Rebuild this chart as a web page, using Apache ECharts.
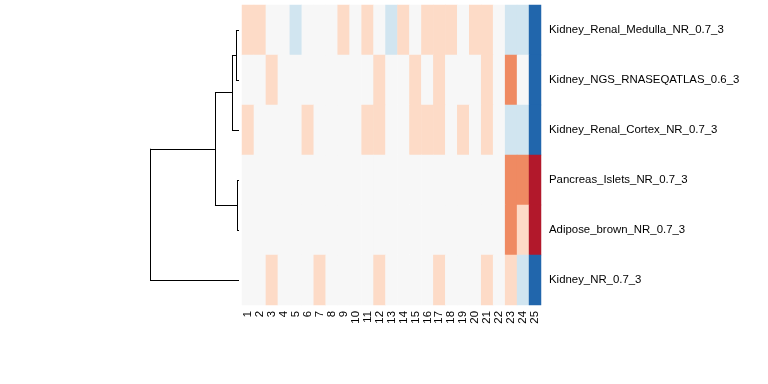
<!DOCTYPE html>
<html><head><meta charset="utf-8">
<script src="https://cdn.jsdelivr.net/npm/echarts@6/dist/echarts.min.js"></script>
<style>html,body{margin:0;padding:0;background:#fff}#c{width:768px;height:384px}</style>
</head><body><div id="c"></div>
<script>
const columns = ['1','2','3','4','5','6','7','8','9','10','11','12','13','14','15','16','17','18','19','20','21','22','23','24','25'];
const rowNames = ['Kidney_Renal_Medulla_NR_0.7_3','Kidney_NGS_RNASEQATLAS_0.6_3','Kidney_Renal_Cortex_NR_0.7_3','Pancreas_Islets_NR_0.7_3','Adipose_brown_NR_0.7_3','Kidney_NR_0.7_3'];
const rowMedulla  = [1,1,0,0,-1,0,0,0,1,0,1,0,-1,1,0,1,1,1,0,1,1,0,-1,-1,-3];
const rowNGS      = [0,0,1,0,0,0,0,0,0,0,0,1,0,0,1,0,1,0,0,0,1,0,2,0,-3];
const rowCortex   = [1,0,0,0,0,1,0,0,0,0,1,1,0,0,1,1,1,0,1,0,1,0,-1,-1,-3];
const rowPancreas = [0,0,0,0,0,0,0,0,0,0,0,0,0,0,0,0,0,0,0,0,0,0,2,2,3];
const rowAdipose  = [0,0,0,0,0,0,0,0,0,0,0,0,0,0,0,0,0,0,0,0,0,0,2,1,3];
const rowKidney   = [0,0,1,0,0,0,1,0,0,0,0,1,0,0,0,0,1,0,0,0,1,0,1,-1,-3];
// dendrogram merges: [childA, childB, height]; leaves are 0..5, merged nodes 6..
const merges = [[0,1,0.034],[6,2,0.079],[3,4,0.022],[7,8,0.27],[9,5,1.0]];

const rows = [rowMedulla,rowNGS,rowCortex,rowPancreas,rowAdipose,rowKidney];
const heat = [];
rows.forEach((r,ri)=>r.forEach((v,ci)=>heat.push([ci,ri,v])));

const nodes = [];
for(let i=0;i<rowNames.length;i++) nodes.push({y:i+0.5,h:0});
const segs = [];
merges.forEach(([a,b,h])=>{
  const A=nodes[a],B=nodes[b];
  segs.push({coords:[[A.h,A.y],[h,A.y]]});
  segs.push({coords:[[B.h,B.y],[h,B.y]]});
  segs.push({coords:[[h,A.y],[h,B.y]]});
  nodes.push({y:(A.y+B.y)/2,h:h});
});

const chart = echarts.init(document.getElementById('c'),null,{renderer:'canvas'});
chart.setOption({
  animation:false,
  textStyle:{fontFamily:'Liberation Sans, Arial, sans-serif'},
  grid:[
    {left:242,width:299,top:5,height:300},
    {left:150,width:89,top:5,height:300}
  ],
  xAxis:[
    {type:'category',data:columns,gridIndex:0,position:'bottom',axisLine:{show:false},axisTick:{show:false},
     axisLabel:{rotate:90,fontSize:11.4,color:'#000',margin:6,interval:0,fontFamily:'Liberation Sans'},splitLine:{show:false}},
    {type:'value',gridIndex:1,min:0,max:1,inverse:true,show:false}
  ],
  yAxis:[
    {type:'category',data:rowNames,gridIndex:0,position:'right',inverse:true,axisLine:{show:false},axisTick:{show:false},
     axisLabel:{fontSize:11.4,color:'#000',margin:8,fontFamily:'Liberation Sans'},splitLine:{show:false}},
    {type:'value',gridIndex:1,min:0,max:6,inverse:true,show:false}
  ],
  visualMap:{type:'piecewise',show:false,seriesIndex:0,dimension:2,
    pieces:[
      {value:-3,color:'#2166ac'},{value:-2,color:'#67a9cf'},{value:-1,color:'#d1e5f0'},
      {value:0,color:'#f7f7f7'},{value:1,color:'#fddbc7'},{value:2,color:'#ef8a62'},{value:3,color:'#b2182b'}
    ]},
  series:[
    {type:'heatmap',xAxisIndex:0,yAxisIndex:0,data:heat,itemStyle:{borderWidth:0},emphasis:{disabled:true}},
    {type:'lines',coordinateSystem:'cartesian2d',xAxisIndex:1,yAxisIndex:1,data:segs,
     lineStyle:{color:'#000',width:1,opacity:1},silent:true}
  ]
});
</script></body></html>
